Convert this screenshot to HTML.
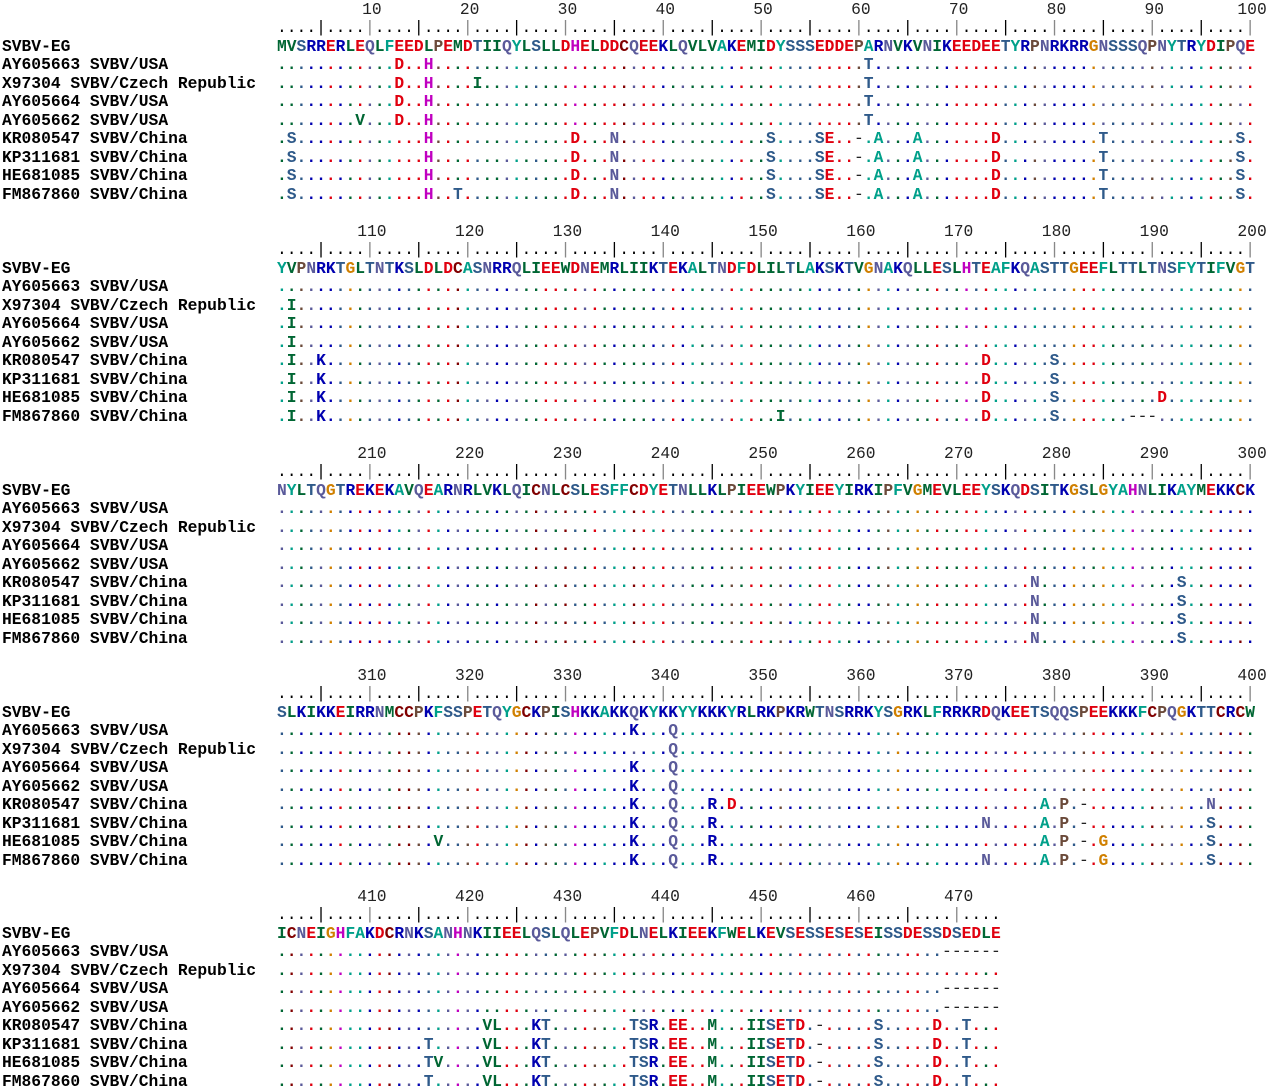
<!DOCTYPE html>
<html><head><meta charset="utf-8">
<style>
html,body{margin:0;padding:0;background:#fff;}
#root{position:relative;width:1269px;height:1089px;overflow:hidden;font-family:"Liberation Mono",monospace;}
.row{position:absolute;height:18.5px;line-height:18.5px;white-space:pre;font-size:16.3px;font-weight:bold;}
.lab{position:absolute;left:2px;height:18.5px;line-height:18.5px;white-space:pre;font-size:16.3px;font-weight:bold;color:#000;}
.num{position:absolute;font-size:16.3px;font-weight:normal;color:#222;transform:translateX(-50%);line-height:18px;}
.ch{position:absolute;top:0;width:9.78px;text-align:center;}
</style></head>
<body>
<div id="root"></div>
<script>
const seqNames = ["SVBV-EG","AY605663 SVBV/USA","X97304 SVBV/Czech Republic","AY605664 SVBV/USA","AY605662 SVBV/USA","KR080547 SVBV/China","KP311681 SVBV/China","HE681085 SVBV/China","FM867860 SVBV/China"];
const consensus = [
 "MVSRRERLEQLFEEDLPEMDTIIQYLSLLDHELDDCQEEKLQVLVAKEMIDYSSSEDDEPARNVKVNIKEEDEETYRPNRKRRGNSSSQPNYTRYDIPQE",
 "YVPNRKTGLTNTKSLDLDCASNRRQLIEEWDNEMRLIIKTEKALTNDFDLILTLAKSKTVGNAKQLLESLHTEAFKQASTTGEEFLTTLTNSFYTIFVGT",
 "NYLTQGTREKEKAVQEARNRLVKLQICNLCSLESFFCDYETNLLKLPIEEWPKYIEEYIRKIPFVGMEVLEEYSKQDSITKGSLGYAHNLIKAYMEKKCK",
 "SLKIKKEIRRNMCCPKFSSPETQYGCKPISHKKAKKQKYKKYYKKKYRLRKPKRWTNSRRKYSGRKLFRRKRDQKEETSQQSPEEKKKFCPQGKTTCRCW",
 "ICNEIGHFAKDCRNKSANHNKIIEELQSLQLEPVFDLNELKIEEKFWELKEVSESSESESEISSDESSDSEDLE"
];
const chinaB1 = "2S 16H 31D 35N 51S 56S 57E 60- 62A 66A 74D 85T 99S";
const chinaB5 = "22V 23L 27K 28T 37T 38S 39R 41E 42E 45M 49I 50I 51S 52E 53T 54D 56- 62S 68D 71T";
const variants = [
 ["13D 16H 61T","13D 16H 21I 61T","13D 16H 61T","9V 13D 16H 61T",chinaB1,chinaB1,chinaB1,chinaB1+" 19T"],
 ["","2I","2I","2I","2I 5K 73D 80S","2I 5K 73D 80S","2I 5K 73D 80S 91D","2I 5K 52I 73D 80S 88- 89- 90-"],
 ["","","","","78N 93S","78N 93S","78N 93S","78N 93S"],
 ["37K 41Q","41Q","37K 41Q","37K 41Q","37K 41Q 45R 47D 79A 81P 83- 96N","37K 41Q 45R 73N 79A 81P 83- 96S","17V 37K 41Q 45R 79A 81P 83- 85G 96S","37K 41Q 45R 73N 79A 81P 83- 85G 96S"],
 ["69- 70- 71- 72- 73- 74-","","69- 70- 71- 72- 73- 74-","69- 70- 71- 72- 73- 74-",chinaB5,chinaB5+" 16T",chinaB5+" 16T 17V",chinaB5+" 16T"]
];
const blockConsY = [47,269,491,713,934];
const colors = {D:"#e0000f",E:"#e0000f",K:"#0000b0",R:"#0000b0",H:"#c000c0",N:"#5a5a9a",Q:"#5a5a9a",S:"#2f5a8a",T:"#2f5a8a",A:"#00a08a",Y:"#00a08a",F:"#00a08a",G:"#d08000",P:"#6b4a3a",C:"#800000",L:"#006633",I:"#006633",V:"#006633",M:"#006633",W:"#006633","-":"#222"};
const X0 = 277, CW = 9.78, RH = 18.5;
const root = document.getElementById('root');

function xOf(i){ return X0 + (i-1)*CW; }

blockConsY.forEach((cy, b) => {
  const cons = consensus[b];
  const n = cons.length;
  for (let p = 10; p <= n; p += 10) {
    const t = document.createElement('div');
    t.className = 'num';
    
    
    t.style.left = (xOf(p) + CW*0.7) + 'px';
    t.style.top = (cy - 46) + 'px';
    t.textContent = String(b*100 + p);
    root.appendChild(t);
  }
  const ru = document.createElement('div');
  ru.className = 'row';
  
  
  ru.style.left = '0px'; ru.style.width = '1269px';
  ru.style.top = (cy - 19 - RH/2) + 'px';
  for (let p = 1; p <= n; p++) {
    const s = document.createElement('span');
    s.className = 'ch';
    s.style.left = xOf(p) + 'px';
    s.style.fontWeight = 'normal';
    if (p % 5 === 0) { s.textContent = '|'; s.style.color = (p % 10 === 0) ? '#888' : '#000'; }
    else { s.textContent = '.'; s.style.color = '#000'; }
    ru.appendChild(s);
  }
  root.appendChild(ru);
  for (let r = 0; r < 9; r++) {
    const top = cy + r*RH - RH/2;
    const lab = document.createElement('div');
    lab.className = 'lab';
    
    
    lab.style.top = top + 'px';
    lab.textContent = seqNames[r];
    root.appendChild(lab);
    const row = document.createElement('div');
    row.className = 'row';
    
    
    row.style.left = '0px'; row.style.width = '1269px';
    row.style.top = top + 'px';
    const vm = {};
    if (r > 0) {
      variants[b][r-1].split(' ').filter(Boolean).forEach(v => { vm[parseInt(v)] = v.replace(/^\d+/, ''); });
    }
    for (let p = 1; p <= n; p++) {
      const c = cons[p-1];
      const s = document.createElement('span');
      s.className = 'ch';
      s.style.left = xOf(p) + 'px';
      if (r === 0) { s.textContent = c; s.style.color = colors[c] || '#000'; }
      else if (vm[p] !== undefined) { const v = vm[p]; s.textContent = v; s.style.color = colors[v] || '#000'; if (v === '-') s.style.fontWeight = 'normal'; }
      else { s.textContent = '.'; s.style.color = colors[c] || '#000'; }
      row.appendChild(s);
    }
    root.appendChild(row);
  }
});
</script>
</body></html>
